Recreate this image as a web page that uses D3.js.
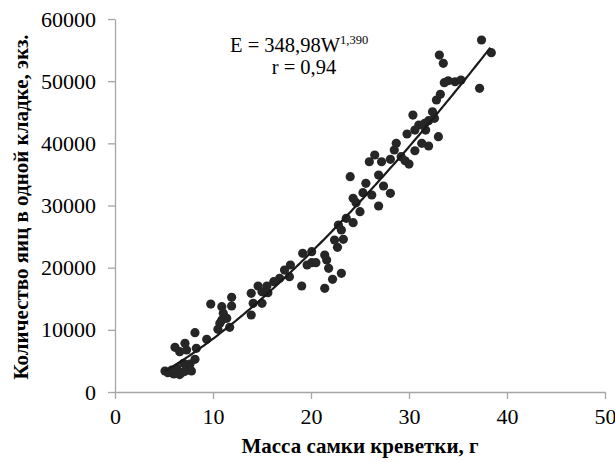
<!DOCTYPE html>
<html>
<head>
<meta charset="utf-8">
<script src="https://cdn.jsdelivr.net/npm/d3@7"></script>
<style>
  body { margin: 0; background: #fff; }
  svg text { font-family: "Liberation Serif", "Times New Roman", "DejaVu Serif", serif !important; }
</style>
</head>
<body>
<div id="chart"></div>
<script>
// weight of female (g)
const massG = [
  5.1, 5.4, 5.8, 6.3, 6.8, 7.3, 7.8, 6.0, 6.6, 7.1,
  7.0, 7.65, 8.16,
  6.12, 6.6, 7.3, 7.14, 8.3, 8.16, 9.36,
  9.77, 10.5, 10.7, 10.9, 11.4, 11.7, 11.05, 10.9, 11.9, 11.9, 13.9, 14.1, 13.9,
  14.6, 15.0, 15.5, 15.6, 15.0, 16.2, 16.8, 17.3, 17.8, 17.9,
  19.05, 19.15, 19.6, 20.07, 20.07, 20.5, 21.4, 21.6, 21.8, 21.4, 22.2, 23.1,
  22.4, 22.7, 23.3, 22.8, 23.1, 23.6, 24.3, 24.0, 24.3, 24.6, 25.0, 25.3, 25.6,
  26.2, 26.9, 27.4, 28.1, 26.9, 25.95, 26.5, 27.2, 28.1, 28.5, 28.7, 29.2, 29.6,
  30.0, 29.8, 30.6, 32.0,
  30.4, 31.0, 31.6, 32.0, 30.6, 31.7, 31.3, 32.4, 32.6, 33.0, 32.8, 33.2,
  33.6, 34.0, 34.7, 35.3, 33.1, 33.5, 37.2, 37.4, 38.4
];
// eggs per clutch
const eggs = [
  3380, 3100, 3540, 3810, 3100, 3700, 3380, 2900, 2800, 3300,
  4620, 4500, 5260,
  7190, 6480, 6760, 7830, 7030, 9540, 8480,
  14150, 10080, 11050, 11580, 11850, 10400, 12660, 13720, 13830, 15230, 15870, 14270, 12390,
  17050, 16130, 17050, 15970, 14270, 17740, 18290, 19620, 18550, 20430,
  17050, 22310, 20430, 22570, 20800, 20800, 22040, 21230, 19900, 16680, 18130, 19090,
  24450, 23270, 24560, 26860, 26060, 27930, 27230, 34630, 31160, 30450, 29000, 32060, 33570,
  31690, 34900, 33140, 31960, 29920, 37040, 38120, 37040, 37430, 38930, 40000, 37850, 37200,
  36670, 41500, 38810, 39570,
  44550, 42950, 43220, 43640, 42140, 42140, 40000, 45080, 44020, 41070, 46970, 47880,
  49750, 50070, 49910, 50180, 54200, 52870, 48850, 56620, 54580
];

// fitted power curve E = a * W^b
const fitA = 348.98;
const fitB = 1.390;
const fitRange = [5.1, 38.4];

const xTicks = [0, 10, 20, 30, 40, 50];
const yTicks = [0, 10000, 20000, 30000, 40000, 50000, 60000];

const width = 615;
const height = 462;
const margin = { top: 19, right: 10, bottom: 70, left: 115 };
const plotW = 605 - margin.left;
const plotH = 392 - margin.top;
const serif = "'Liberation Serif', 'Times New Roman', 'DejaVu Serif', serif";

const svg = d3.select("#chart")
    .append("svg")
    .attr("width", width)
    .attr("height", height)
    .attr("font-family", serif);

const x = d3.scaleLinear().domain([0, 50]).range([margin.left, margin.left + plotW]);
const y = d3.scaleLinear().domain([0, 60000]).range([margin.top + plotH, margin.top]);

const axisColor = "#a6a6a6";

const xAxis = svg.append("g")
    .attr("transform", "translate(0," + y(0) + ")")
    .call(d3.axisBottom(x).tickValues(xTicks).tickSize(7).tickSizeOuter(0).tickPadding(9).tickFormat(d3.format("d")));

const yAxis = svg.append("g")
    .attr("transform", "translate(" + x(0) + ",0)")
    .call(d3.axisLeft(y).tickValues(yTicks).tickSize(7).tickSizeOuter(0).tickPadding(12).tickFormat(d3.format("d")));

[xAxis, yAxis].forEach(g => {
    g.attr("font-family", serif).attr("font-size", 22);
    g.selectAll("path, line").attr("stroke", axisColor).attr("stroke-width", 1.3);
    g.selectAll("text").attr("fill", "#000");
});

// points
const pts = massG.map((m, i) => ({ m: m, e: eggs[i] }));
svg.append("g")
    .selectAll("circle")
    .data(pts)
    .enter()
    .append("circle")
    .attr("cx", d => x(d.m))
    .attr("cy", d => y(d.e))
    .attr("r", 4.6)
    .attr("fill", "#262626");

// trend line
const curveData = d3.range(fitRange[0], fitRange[1] + 0.001, 0.2).map(w => ({ w: w, e: fitA * Math.pow(w, fitB) }));
const line = d3.line().x(d => x(d.w)).y(d => y(d.e));
svg.append("path")
    .datum(curveData)
    .attr("fill", "none")
    .attr("stroke", "#1a1a1a")
    .attr("stroke-width", 2.2)
    .attr("d", line);

// equation
const eq = svg.append("text")
    .attr("x", 230)
    .attr("y", 52)
    .attr("font-size", 20.5)
    .attr("fill", "#000");
eq.append("tspan").text("E = 348,98W");
eq.append("tspan").attr("dy", "-8").attr("font-size", 12.5).text("1,390");

svg.append("text")
    .attr("x", 304)
    .attr("y", 74)
    .attr("text-anchor", "middle")
    .attr("font-size", 20.5)
    .attr("fill", "#000")
    .text("r = 0,94");

// axis titles
svg.append("text")
    .attr("x", 360)
    .attr("y", 453)
    .attr("text-anchor", "middle")
    .attr("font-size", 21)
    .attr("font-weight", "bold")
    .text("Масса самки креветки, г");

svg.append("text")
    .attr("transform", "translate(28," + 207 + ") rotate(-90)")
    .attr("text-anchor", "middle")
    .attr("font-size", 21)
    .attr("font-weight", "bold")
    .text("Количество яиц в одной кладке, экз.");
</script>
</body>
</html>
